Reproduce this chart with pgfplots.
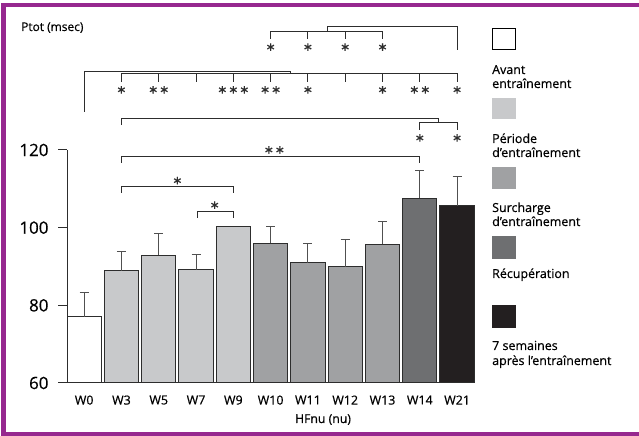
\documentclass[border=0pt]{standalone}
\usepackage{fontspec}
\setmainfont{Open Sans}[FakeBold=0.5]
\newfontfamily\djv{DejaVu Sans}[FakeBold=0.6]
\usepackage{pgfplots}
\pgfplotsset{compat=1.18}
\definecolor{frame}{RGB}{150,40,143}
\definecolor{cB}{RGB}{200,201,203}
\definecolor{cC}{RGB}{160,161,163}
\definecolor{cD}{RGB}{110,111,113}
\definecolor{cE}{RGB}{35,31,32}
\definecolor{edge}{RGB}{45,45,45}
\definecolor{errc}{RGB}{80,80,80}
\newcommand{\st}{\djv\fontsize{12}{12}\selectfont ∗}
\newcommand{\stt}{\djv\fontsize{12}{12}\selectfont ∗\kern1bp∗}
\newcommand{\sttt}{\djv\fontsize{12}{12}\selectfont ∗\kern1bp∗\kern1bp∗}
\pgfplotsset{eb/.style={
    error bars/y dir=plus, error bars/y explicit,
    error bars/error bar style={errc, line width=1bp},
    error bars/error mark=-,
    error bars/error mark options={rotate=90, errc, line width=1bp, mark size=4.5bp}}}
\begin{document}
\begin{tikzpicture}[x=1bp,y=1bp]
\path[use as bounding box] (0,0) rectangle (639,436);
\draw[frame, line width=4.5bp] (3.5,1.5) rectangle (660,431);
\begin{axis}[
  at={(67bp,53bp)}, anchor=south west,
  scale only axis, width=408bp, height=233bp,
  xmin=-0.46, xmax=10.48, ymin=60, ymax=120,
  axis x line*=bottom, axis y line*=left,
  axis line style={edge, line width=1bp},
  ytick={60,80,100,120},
  xtick={0,...,10},
  xticklabels={W0,W3,W5,W7,W9,W10,W11,W12,W13,W14,W21},
  x tick style={draw=none},
  y tick style={edge, line width=1bp},
  tick align=outside, major tick length=9bp,
  /pgf/number format/assume math mode=true,
  y tick label style={font=\fontsize{17}{17}\selectfont, xshift=-6bp},
  x tick label style={font=\fontsize{12.5}{12.5}\selectfont},
  ybar, bar width=0.92, bar shift=0pt,
  clip mode=individual,
  every axis plot/.append style={draw=edge, line width=1bp},
]
\addplot[fill=white, eb] coordinates {(0,77.0) +- (0,6.4)};
\addplot[fill=cB, eb] coordinates {(1,88.9) +- (0,5.0) (2,92.9) +- (0,5.6) (3,89.1) +- (0,3.9)};
\addplot[fill=cB] coordinates {(4,100.2)};
\addplot[fill=cC, eb] coordinates {(5,96.0) +- (0,4.2) (6,91.0) +- (0,4.9) (7,89.9) +- (0,7.1) (8,95.7) +- (0,5.9)};
\addplot[fill=cD, eb] coordinates {(9,107.6) +- (0,7.1)};
\addplot[fill=cE, eb] coordinates {(10,105.6) +- (0,7.6)};
% significance brackets
\begin{scope}[edge, line width=1bp]
% row 1
\draw (5,148.6) |- (8,150.4) -- (8,148.6);
\draw (6,150.4) -- (6,148.6);
\draw (7,150.4) -- (7,148.6);
\draw (6.52,150.4) |- (10,151.7) -- (10,145.8);
% row 2
\draw (0,129.8) |- (5.52,140.3) -- (5.52,139.7);
\draw (1,137.5) |- (10,139.7) -- (10,137.5);
\pgfplotsinvokeforeach{2,...,9}{\draw (#1,139.7) -- (#1,137.5);}
% row 3
\draw (1,126.4) |- (9.5,128.2) -- (9.5,127.0);
\draw (9,125.2) |- (10,127.0) -- (10,125.2);
% row 4
\draw (1,116.7) |- (9,118.3) -- (9,116.7);
\draw (1,109.0) |- (4,110.6) -- (4,109.0);
\draw (3.05,102.5) |- (4,104.1) -- (4,102.5);
\end{scope}
\begin{scope}[every node/.style={inner sep=0pt, text=edge}]
\pgfplotsinvokeforeach{5,6,7,8}{\node at (#1,146.5) {\st};}
\node at (1,135.5) {\st};
\node at (2,135.5) {\stt};
\node at (4,135.5) {\sttt};
\node at (5,135.5) {\stt};
\node at (6,135.5) {\st};
\node at (8,135.5) {\st};
\node at (9,135.5) {\stt};
\node at (10,135.5) {\st};
\node at (9,123.1) {\st};
\node at (10,123.1) {\st};
\node at (5.1,120.0) {\stt};
\node at (2.5,112.1) {\st};
\node at (3.5,105.8) {\st};
\end{scope}
\end{axis}
% titles
\node[anchor=base west, inner sep=0pt, font=\fontsize{12}{12}\selectfont] at (21,405) {Ptot (msec)};
\node[anchor=base, inner sep=0pt, font=\fontsize{12.3}{12.3}\selectfont] at (323,13) {HFnu (nu)};
% legend
\draw[black, line width=1bp] (492.5,386) rectangle (515.5,407);
\fill[cB] (492,317) rectangle (516,338);
\fill[cC] (492,247) rectangle (516,269);
\fill[cD] (492,177) rectangle (516,200);
\fill[cE] (492,108) rectangle (516,131);
\begin{scope}[every node/.style={anchor=base west, inner sep=0pt, font=\fontsize{12.5}{12.5}\selectfont}]
\node at (492,362) {Avant};
\node at (492,348) {entraînement};
\node at (492,293) {Période};
\node at (492,279) {d’entraînement};
\node at (492,224) {Surcharge};
\node at (492,210) {d’entraînement};
\node at (492,158) {Récupération};
\node at (492,86) {7 semaines};
\node at (492,71) {après l’entraînement};
\end{scope}
\end{tikzpicture}
\end{document}
